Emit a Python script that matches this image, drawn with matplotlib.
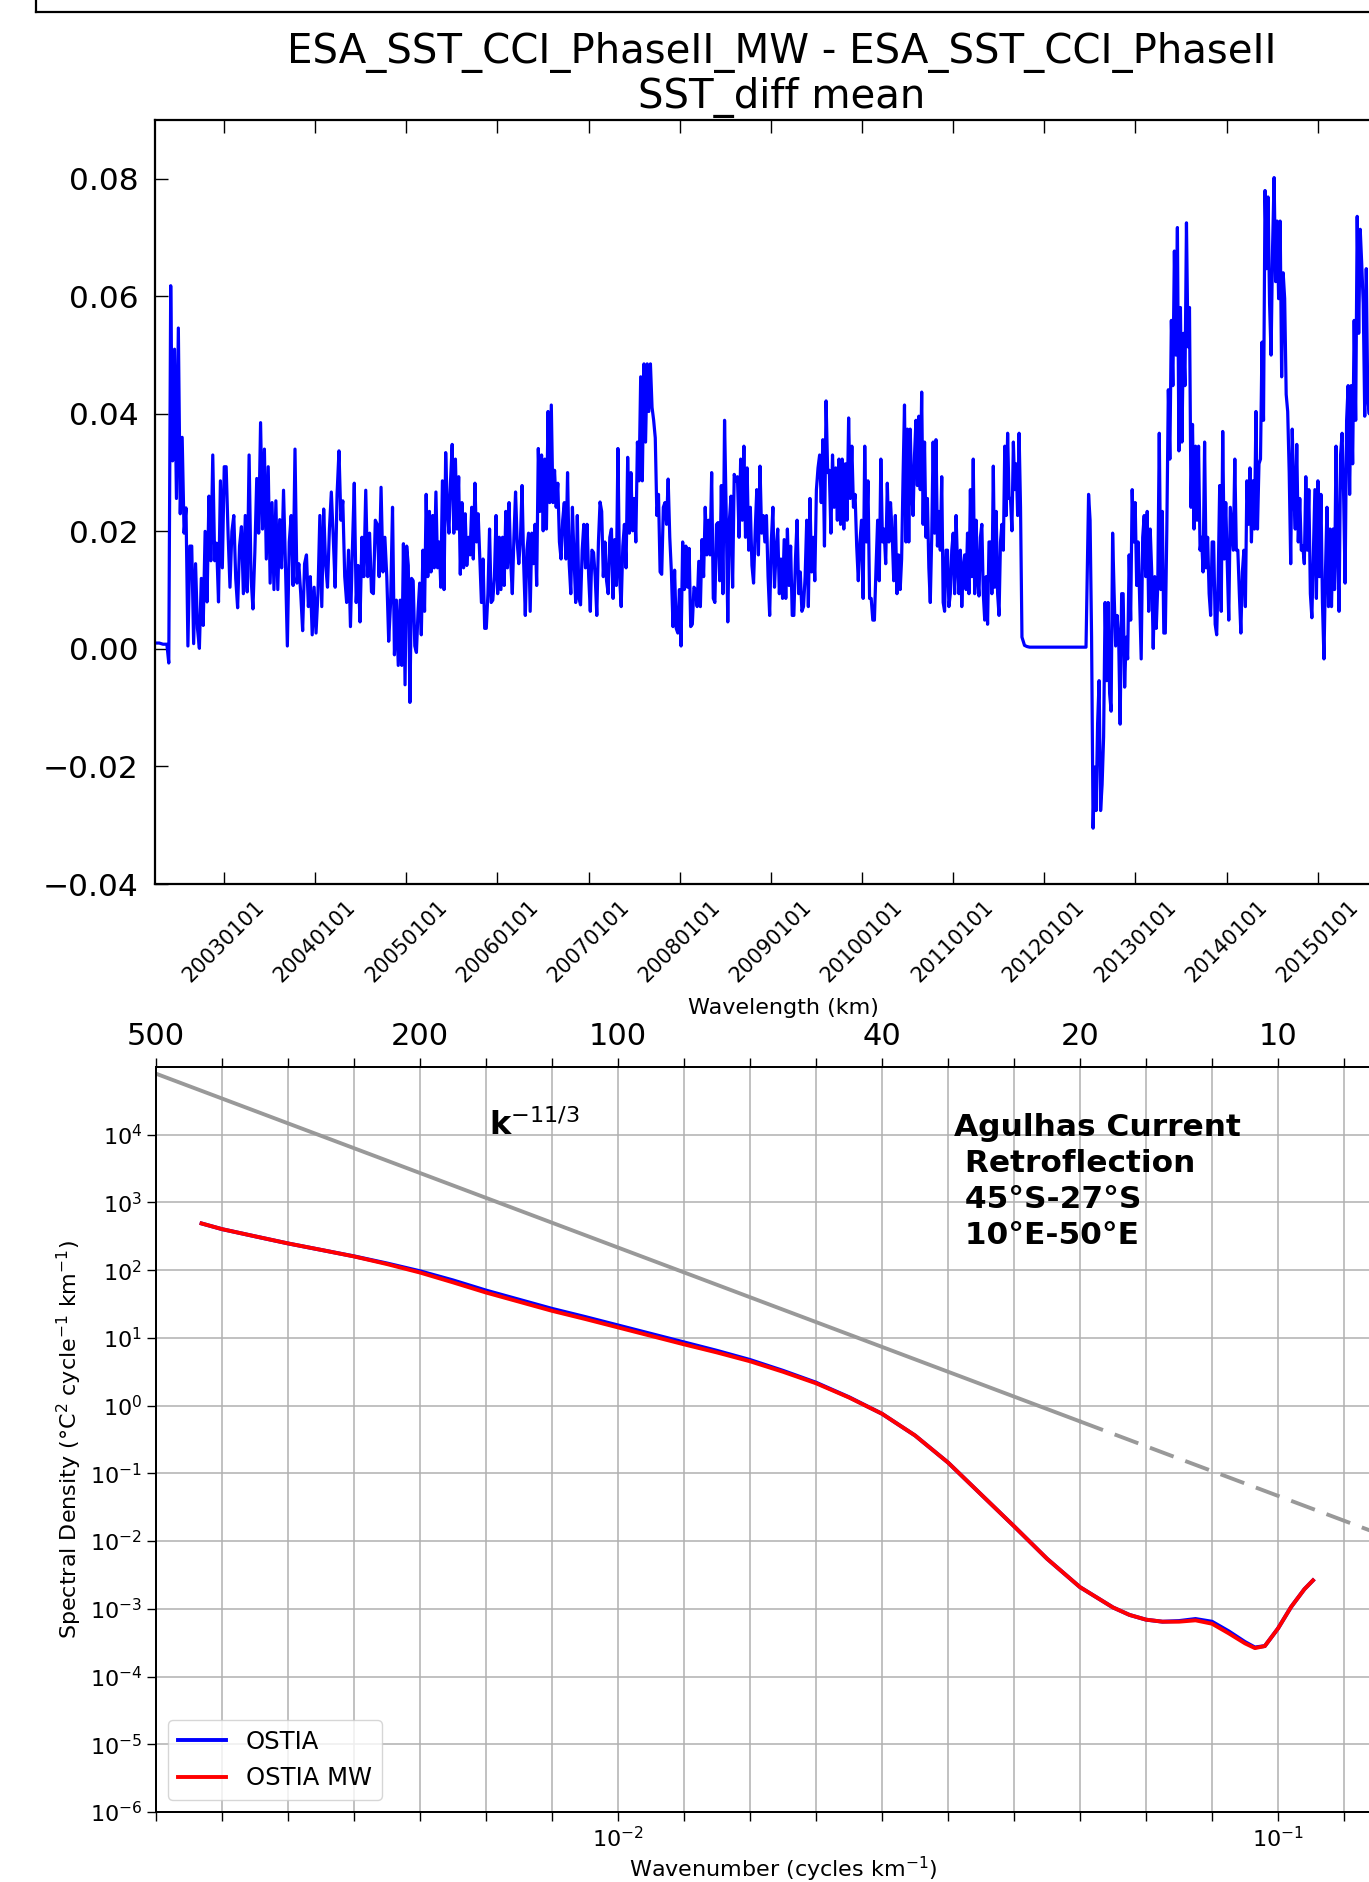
import matplotlib
matplotlib.use('Agg')
import matplotlib.pyplot as plt
import numpy as np
import pandas as pd
from matplotlib.lines import Line2D
from matplotlib.ticker import NullLocator

# ---------------- data: top panel (SST_diff mean, piece by piece)
segment_edges = ['2002-04-01', '2004-12-07', '2007-09-06', '2010-06-03', '2011-10-04',
                 '2012-06-27', '2013-03-01', '2015-07-27', '2016-01-01']
diff_2002_2004 = [
    0.001, 0.001, 0.001, 0.0009, 0.0008, 0.0008, 0.0008, -0.0024, 0.0618,
    0.032, 0.051, 0.0256, 0.0546, 0.023, 0.036, 0.0197, 0.024, 0.0005, 0.0175, 0.0175, 0.0009,
    0.0145, 0.0035, 0.0001, 0.012, 0.004, 0.020, 0.008, 0.026, 0.015, 0.033, 0.015, 0.018, 0.008,
    0.0286, 0.0138, 0.031, 0.031, 0.0197, 0.0105, 0.020, 0.0227, 0.012, 0.007, 0.0175,
    0.0208, 0.0094, 0.0227, 0.0097, 0.033, 0.0123, 0.0068, 0.0164, 0.029, 0.0197, 0.0385, 0.0204,
    0.034, 0.0153, 0.031, 0.0112, 0.0249, 0.0101, 0.0252, 0.0101, 0.022, 0.0138, 0.027, 0.0145,
    0.0005, 0.0182, 0.0227, 0.0108, 0.034, 0.0112, 0.0145, 0.0094, 0.0031, 0.0145, 0.016, 0.0072,
    0.0123, 0.0024, 0.0105, 0.0027, 0.0094, 0.0227, 0.0072, 0.0238, 0.0145, 0.0105, 0.0204,
    0.0267, 0.019, 0.0105, 0.0263, 0.0337, 0.0219, 0.0252, 0.0123, 0.0079, 0.0168, 0.0038, 0.0168,
    0.0282, 0.0079, 0.0142, 0.0046, 0.019, 0.0123, 0.027, 0.0123, 0.0197, 0.0097, 0.0094, 0.0219,
    0.0212, 0.0123, 0.0275, 0.0131, 0.019, 0.0123, 0.0013, 0.0079, 0.0241, -0.001, 0.0083, -0.0028]
diff_2004_2007 = [
    0.0083, -0.0028, 0.0179, -0.0061, 0.0175, 0.0142, -0.0091, 0.012, 0.0116, 0.0005,
    -0.0006, 0.0064, 0.0112, 0.0024, 0.0168, 0.0064, 0.0263, 0.0123, 0.0234, 0.0131,
    0.0227, 0.0138, 0.0267, 0.0138, 0.0182, 0.0105, 0.0286, 0.0101, 0.0334, 0.0241,
    0.0197, 0.0286, 0.0348, 0.0197, 0.0323, 0.0204, 0.0293, 0.0127, 0.0249, 0.0138,
    0.023, 0.0142, 0.019, 0.016, 0.0241, 0.0153, 0.0282, 0.0182, 0.023, 0.0153,
    0.0079, 0.0153, 0.0035, 0.0035, 0.0094, 0.0204, 0.0079, 0.0083, 0.0123, 0.0227,
    0.0094, 0.019, 0.0101, 0.019, 0.0108, 0.0234, 0.0138, 0.0249, 0.0149, 0.0094,
    0.019, 0.0267, 0.0182, 0.0145, 0.0186, 0.0278, 0.0145, 0.0057, 0.0168, 0.0197,
    0.0064, 0.0197, 0.0145, 0.0212, 0.0108, 0.0341, 0.0234, 0.033, 0.0201, 0.0323,
    0.0204, 0.0404, 0.0249, 0.0415, 0.0249, 0.0304, 0.0241, 0.0282, 0.0182, 0.0153,
    0.0219, 0.0249, 0.0153, 0.030, 0.0145, 0.0094, 0.0241, 0.0153, 0.0079, 0.0227,
    0.0086, 0.0075, 0.0168, 0.0212, 0.0138, 0.0212, 0.0123, 0.0064, 0.0168, 0.0164,
    0.0123, 0.0057, 0.0182, 0.025, 0.0234, 0.0123, 0.0182, 0.0116, 0.0094, 0.019,
    0.0204, 0.0086, 0.0186, 0.0108, 0.0341, 0.0123, 0.0072, 0.0175, 0.0212, 0.0138,
    0.0326, 0.0197, 0.030, 0.0201, 0.0256, 0.0182, 0.0352, 0.0286, 0.0463, 0.0286,
    0.0485, 0.0352, 0.0485, 0.0404]
diff_2007_2010 = [
    0.0485, 0.0411, 0.0389, 0.0359, 0.0227, 0.0263, 0.0131, 0.0127, 0.0241, 0.0249,
    0.0212, 0.0289, 0.019, 0.0131, 0.0038, 0.0134, 0.0035, 0.0027, 0.0101, 0.0005,
    0.0182, 0.0101, 0.0175, 0.0105, 0.0171, 0.0038, 0.0042, 0.0105, 0.0101, 0.0072,
    0.0149, 0.0072, 0.0186, 0.0123, 0.0241, 0.016, 0.0219, 0.016, 0.030, 0.0086,
    0.0079, 0.0212, 0.0215, 0.0116, 0.0278, 0.0094, 0.0389, 0.0234, 0.0046, 0.0219,
    0.026, 0.0105, 0.0297, 0.0286, 0.0293, 0.019, 0.0323, 0.0219, 0.0345, 0.019,
    0.0308, 0.0168, 0.0241, 0.0142, 0.0112, 0.0201, 0.0271, 0.016, 0.0311, 0.0197,
    0.0227, 0.0182, 0.0227, 0.0123, 0.0057, 0.0182, 0.0241, 0.0105, 0.0168, 0.0204,
    0.0094, 0.0153, 0.0086, 0.0186, 0.0086, 0.0204, 0.0108, 0.0175, 0.0057, 0.0057,
    0.0153, 0.0219, 0.0094, 0.0131, 0.0064, 0.0072, 0.0123, 0.0219, 0.0072, 0.0256,
    0.0131, 0.019, 0.0116, 0.0271, 0.0308, 0.033, 0.0249, 0.0356, 0.0175, 0.0422,
    0.030, 0.0304, 0.0197, 0.033, 0.0241, 0.0308, 0.0219, 0.0323, 0.0212, 0.0323,
    0.0204, 0.0315, 0.0219, 0.0393, 0.0256, 0.0345, 0.0241, 0.0263, 0.0175, 0.0116,
    0.0182, 0.0219, 0.0086, 0.0345, 0.0182, 0.0286, 0.0086, 0.0086, 0.0049, 0.0049,
    0.0138, 0.0219, 0.0116, 0.0323, 0.0182, 0.0204, 0.0145, 0.0282, 0.0182, 0.0249,
    0.0197, 0.0116, 0.0227, 0.0094, 0.016]
diff_2010_2011 = [
    0.0101, 0.0153, 0.0293, 0.0415, 0.0182, 0.0374, 0.0182, 0.0374, 0.0271, 0.0227,
    0.033, 0.0389, 0.0278, 0.0396, 0.0271, 0.0437, 0.0212, 0.0352, 0.019, 0.0256,
    0.0138, 0.0079, 0.019, 0.0352, 0.0197, 0.0356, 0.0175, 0.0234, 0.0168, 0.0293,
    0.0079, 0.0064, 0.0168, 0.0168, 0.0072, 0.0094, 0.0168, 0.0197, 0.0094, 0.0227,
    0.0145, 0.0094, 0.0168, 0.0072, 0.0138, 0.016, 0.0101, 0.0197, 0.0094, 0.0271,
    0.0123, 0.0323, 0.0094, 0.0219, 0.0123, 0.009, 0.019, 0.0212, 0.0094, 0.0049,
    0.0123, 0.0042, 0.0182, 0.0182, 0.0094, 0.0311, 0.0105, 0.0234, 0.0094, 0.0057,
    0.0182, 0.0212, 0.0168, 0.0345, 0.0227, 0.0367, 0.0256, 0.0256, 0.0201, 0.0352,
    0.0271, 0.0315, 0.0227, 0.0367, 0.0241]
diff_2011_2012_gap = [0.0020, 0.0006, 0.0004, 0.0003, 0.0003, 0.0003, 0.0003, 0.0003,
                      0.0003, 0.0003, 0.0003, 0.0003, 0.0003, 0.0003, 0.0003, 0.0003,
                      0.0003, 0.0003, 0.0003, 0.0003, 0.0003, 0.0003, 0.0003, 0.0003,
                      0.0003, 0.0003]
diff_2012_2013 = [
    0.0263, 0.0219, 0.002, -0.0305, -0.0201, -0.0275, -0.0128, -0.0054, -0.0275, -0.0231,
    -0.015, 0.0079, -0.0054, 0.0079, -0.0076, -0.0106, 0.0197, 0.0094, 0.0005, 0.0057,
    0.002, -0.0128, 0.0094, 0.0094, -0.0065, 0.002, -0.0017, 0.016, 0.0049, 0.0271,
    0.0182, 0.0249, 0.0108, 0.0182, 0.0086, -0.0017, 0.019, 0.0227, 0.0123, 0.0234, 0.0064]
diff_2013_2015 = [
    0.0204, 0.0131, 0.0001, 0.0123, 0.0035, 0.0108, 0.0367, 0.0101, 0.0234, 0.0027,
    0.0027, 0.0204, 0.0441, 0.0323, 0.0559, 0.0448, 0.0677, 0.050, 0.0717, 0.0337,
    0.0581, 0.0352, 0.0537, 0.0448, 0.0725, 0.0514, 0.0581, 0.0241, 0.0382, 0.0204,
    0.0345, 0.0219, 0.0345, 0.0168, 0.019, 0.0131, 0.0352, 0.0138, 0.019, 0.0094,
    0.0057, 0.0182, 0.0182, 0.0042, 0.0024, 0.0123, 0.0278, 0.0064, 0.037, 0.0153,
    0.0249, 0.0145, 0.0049, 0.0241, 0.0204, 0.0168, 0.0323, 0.0168, 0.0168, 0.0094,
    0.0027, 0.0131, 0.0168, 0.0072, 0.0286, 0.0212, 0.0308, 0.0182, 0.0286, 0.0204,
    0.0404, 0.0204, 0.0315, 0.0323, 0.0522, 0.0389, 0.078, 0.0647, 0.0769, 0.0588,
    0.050, 0.0684, 0.0802, 0.0625, 0.0728, 0.0596, 0.0728, 0.0463, 0.064, 0.0596,
    0.0433, 0.0404, 0.030, 0.0145, 0.0374, 0.0271, 0.0204, 0.0348, 0.0182, 0.0256,
    0.0168, 0.0175, 0.0145, 0.0293, 0.0168, 0.0271, 0.0094, 0.0053, 0.016, 0.0271,
    0.0086, 0.0286, 0.0123, 0.0263, 0.0079, -0.0017, 0.0131, 0.0241, 0.0072, 0.0204,
    0.0072, 0.0204, 0.0101, 0.0345, 0.0168, 0.0064, 0.033, 0.0367, 0.0263, 0.0112,
    0.0389, 0.0448, 0.0263, 0.0448, 0.0315, 0.0559, 0.0389, 0.0736, 0.0537, 0.0714,
    0.0655, 0.0588, 0.0396, 0.0647, 0.0426]
diff_2015_2016 = [0.040, 0.062, 0.050, 0.045, 0.055, 0.040, 0.048, 0.052, 0.045, 0.050,
                  0.047, 0.058]
diff_segments = [diff_2002_2004, diff_2004_2007, diff_2007_2010, diff_2010_2011,
                 diff_2011_2012_gap, diff_2012_2013, diff_2013_2015, diff_2015_2016]

year_ticks = list(range(2003, 2016))
top_ytick_values = [-0.04, -0.02, 0.00, 0.02, 0.04, 0.06, 0.08]
top_ytick_labels = ['\u22120.04', '\u22120.02', '0.00', '0.02', '0.04', '0.06', '0.08']

# ---------------- data: bottom panel (spectra, log10 values)
log_wavenumber = [-2.631, -2.6, -2.55, -2.5, -2.45, -2.4, -2.35, -2.3, -2.25, -2.2,
                  -2.15, -2.1, -2.05, -2.0, -1.95, -1.9, -1.85, -1.8, -1.75, -1.7,
                  -1.65, -1.6, -1.55, -1.5, -1.45, -1.4, -1.35, -1.3, -1.25, -1.225,
                  -1.2, -1.175, -1.15, -1.125, -1.1, -1.075, -1.05, -1.035, -1.02, -1.0,
                  -0.98, -0.96, -0.947]
log_psd_ostia = [2.69, 2.606, 2.50, 2.395, 2.30, 2.205, 2.10, 1.985, 1.85, 1.70,
                 1.565, 1.43, 1.31, 1.185, 1.06, 0.935, 0.81, 0.675, 0.515, 0.34,
                 0.125, -0.12, -0.44, -0.84, -1.31, -1.78, -2.26, -2.68, -2.98, -3.09,
                 -3.16, -3.19, -3.18, -3.15, -3.19, -3.33, -3.49, -3.57, -3.55, -3.29,
                 -2.97, -2.71, -2.58]
log_psd_ostia_mw = [2.69, 2.606, 2.50, 2.395, 2.30, 2.203, 2.09, 1.965, 1.82, 1.67,
                    1.535, 1.40, 1.28, 1.155, 1.03, 0.905, 0.785, 0.655, 0.50, 0.33,
                    0.12, -0.12, -0.44, -0.84, -1.31, -1.78, -2.26, -2.68, -2.98, -3.09,
                    -3.16, -3.19, -3.19, -3.17, -3.22, -3.36, -3.51, -3.58, -3.55, -3.29,
                    -2.97, -2.71, -2.58]
ref_k_solid = [0.002, 0.05]
ref_psd_solid = [7.9e4, 0.59]
ref_k_dashed = [0.05, 0.1585]
ref_psd_dashed = [0.59, 0.0086]
log_k_ticks = [-2.7, -2.6, -2.5, -2.4, -2.3, -2.2, -2.1, -2.0, -1.9, -1.8,
               -1.7, -1.6, -1.5, -1.4, -1.3, -1.2, -1.1, -1.0, -0.9, -0.8]
bottom_tick_labels = ['', '', '', '', '', '', '', r'$10^{-2}$', '', '',
                      '', '', '', '', '', '', '', r'$10^{-1}$', '', '']
wavelength_tick_labels = ['500', '', '', '', '200', '', '', '100', '', '',
                          '', '40', '', '', '20', '', '', '10', '', '']
psd_ytick_exponents = [-6, -5, -4, -3, -2, -1, 0, 1, 2, 3, 4]

W, H = 1369, 1882
fig = plt.figure(figsize=(W / 100, H / 100), dpi=100)

# frame remnant at the top
fig.add_artist(Line2D([36 / W, 1.0], [1 - 12 / H, 1 - 12 / H], transform=fig.transFigure,
                      color='k', lw=1.6))
fig.add_artist(Line2D([36 / W, 36 / W], [1 - 12 / H, 1.0], transform=fig.transFigure,
                      color='k', lw=1.6))

# ---------------- top panel
ax1 = fig.add_axes([155.4 / W, 1 - 884 / H, (1408.7 - 155.4) / W, (884 - 120) / H])
dates, values = [], []
n_seg = len(diff_segments)
for i, seg in enumerate(diff_segments):
    last = (i == n_seg - 1)
    d = pd.date_range(segment_edges[i], segment_edges[i + 1],
                      periods=len(seg) + (0 if last else 1))
    if not last:
        d = d[:-1]
    dates.extend(list(d))
    values.extend(seg)
ax1.plot(dates, values, color='b', lw=2.3)
ax1.set_xlim(pd.Timestamp(segment_edges[0]), pd.Timestamp(segment_edges[-1]))
ax1.set_ylim(-0.04, 0.09)
ax1.set_yticks(top_ytick_values)
ax1.set_yticklabels(top_ytick_labels)
xt = [pd.Timestamp(f'{y}-01-01') for y in year_ticks]
ax1.set_xticks(xt)
ax1.set_xticklabels([f'{y}0101' for y in year_ticks], rotation=45, fontsize=15)
ax1.xaxis.set_minor_locator(NullLocator())
ax1.tick_params(axis='both', direction='in', length=9, width=1, top=True, right=True)
ax1.tick_params(axis='y', labelsize=22.5, pad=12)
ax1.tick_params(axis='x', pad=9)
for s in ax1.spines.values():
    s.set_linewidth(1.6)
ax1.set_title('ESA_SST_CCI_PhaseII_MW - ESA_SST_CCI_PhaseII\nSST_diff mean',
              fontsize=29, pad=9, linespacing=1.12)

# ---------------- bottom panel
ax2 = fig.add_axes([156 / W, 1 - 1812 / H, (1410 - 156) / W, (1812 - 1067) / H])
ax2.set_xscale('log')
ax2.set_yscale('log')
ax2.plot(ref_k_solid, ref_psd_solid, color='0.6', lw=2.8)
ax2.plot(ref_k_dashed, ref_psd_dashed, color='0.6', lw=2.8, ls=(0, (6.5, 3.2)))
k_vals = [10 ** v for v in log_wavenumber]
ax2.plot(k_vals, [10 ** v for v in log_psd_ostia], color='b', lw=2.8, label='OSTIA',
         solid_joinstyle='round')
ax2.plot(k_vals, [10 ** v for v in log_psd_ostia_mw], color='r', lw=2.8, label='OSTIA MW',
         solid_joinstyle='round')
xlim = (10 ** log_k_ticks[0], 10 ** log_k_ticks[-1])
ax2.set_xlim(*xlim)
ax2.set_ylim(1e-6, 1e5)
kt = [10 ** v for v in log_k_ticks]
ax2.set_xticks(kt)
ax2.set_xticklabels(bottom_tick_labels)
ax2.xaxis.set_minor_locator(NullLocator())
ax2.set_yticks([10.0 ** e for e in psd_ytick_exponents])
ax2.set_yticklabels([f'$10^{{{e}}}$' for e in psd_ytick_exponents])
ax2.yaxis.set_minor_locator(NullLocator())
ax2.tick_params(axis='both', direction='out', length=6.5, width=1, labelsize=16)
ax2.grid(True, which='major', color='#b0b0b0', lw=1.1)
for s in ax2.spines.values():
    s.set_linewidth(1.3)
ax2.set_xlabel('Wavenumber (cycles km$^{-1}$)', fontsize=16, labelpad=3)
ax2.set_ylabel('Spectral Density (\u00b0C$^2$ cycle$^{-1}$ km$^{-1}$)', fontsize=16,
               labelpad=4)

axt = ax2.twiny()
axt.set_xscale('log')
axt.set_xlim(*xlim)
axt.set_xticks(kt)
axt.set_xticklabels(wavelength_tick_labels)
axt.xaxis.set_minor_locator(NullLocator())
axt.tick_params(axis='x', direction='out', length=6.5, width=1, labelsize=22, pad=5)
axt.set_xlabel('Wavelength (km)', fontsize=16, labelpad=6)
for s in axt.spines.values():
    s.set_linewidth(1.3)

ax2.text(0.00637, 1e4, r'$\mathbf{k}^{-11/3}$', fontsize=23, ha='left', va='baseline')
ax2.text(0.6367, 0.938, 'Agulhas Current\n Retroflection\n 45\u00b0S-27\u00b0S\n 10\u00b0E-50\u00b0E',
         transform=ax2.transAxes, fontsize=22.5, fontweight='bold', ha='left', va='top',
         linespacing=1.3)
ax2.legend(loc='lower left', fontsize=17.5, borderaxespad=0.5)

fig.savefig('out.png', dpi=100)
